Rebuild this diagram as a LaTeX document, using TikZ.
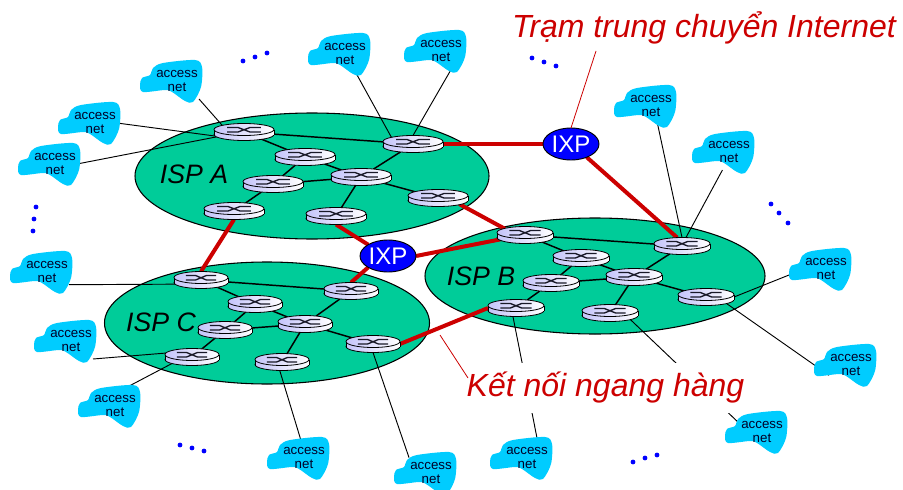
\documentclass[tikz,border=0pt]{standalone}
\usepackage{fontspec}
\setmainfont{Liberation Sans}
\usetikzlibrary{shapes.geometric}
\definecolor{ispgreen}{RGB}{0,204,153}
\definecolor{cloudblue}{RGB}{0,204,255}
\definecolor{peerred}{RGB}{204,0,0}
\definecolor{routerlav}{RGB}{196,196,250}
\definecolor{nettext}{RGB}{0,0,40}
\definecolor{crossdark}{RGB}{25,25,40}
\pgfdeclarelayer{isp}
\pgfdeclarelayer{lines}
\pgfsetlayers{isp,lines,main}
\def\px{0.75pt}
\tikzset{
  ispshape/.style={ellipse,draw=black,line width=0.8pt,fill=ispgreen,inner sep=0pt,outer sep=0pt},
  isplabel/.style={font=\fontsize{20}{24}\selectfont\itshape,text=black,inner sep=0pt},
  redlabel/.style={font=\fontsize{24}{26}\selectfont\itshape,text=peerred,inner sep=0pt},
  corelink/.style={black,line width=1.1pt},
  accesslink/.style={black,line width=0.7pt},
  peerlink/.style={peerred,line width=3pt},
  leader/.style={peerred,line width=0.6pt},
  ixpnode/.style={ellipse,draw=black,line width=0.7pt,fill=blue,text=white,font=\fontsize{18}{20}\selectfont,minimum width=56*\px,minimum height=32*\px,inner sep=0pt,outer sep=0pt},
  netnode/.style={rectangle,minimum width=44*\px,minimum height=36*\px,inner sep=0pt,outer sep=0pt,align=center,text=nettext,font=\fontsize{10}{10.2}\selectfont},
  routernode/.style={ellipse,inner sep=0pt,outer sep=0pt,minimum height=17*\px},
  dot/.style={fill=blue,draw=none},
}
\newcommand{\routerat}[4]{%
  \begin{scope}[shift={(#2,#3)}]
    \path[draw=black,line width=0.6pt,left color=routerlav,right color=white] (0,2.5) ellipse [x radius=#4,y radius=6];
    \path[left color=routerlav,right color=white] (-#4,-2.5) rectangle (#4,2.5);
    \draw[black,line width=0.6pt] (-#4,-2.5) -- (-#4,2.5) (#4,-2.5) -- (#4,2.5);
    \path[draw=black,line width=0.6pt,left color=routerlav,right color=white] (0,-2.5) ellipse [x radius=#4,y radius=6];
    \draw[crossdark,line width=1pt] (-0.56*#4,-4.5) -- (-0.2*#4,-4.5) -- (0.2*#4,0) -- (0.56*#4,0)
      (-0.56*#4,0) -- (-0.2*#4,0) -- (0.2*#4,-4.5) -- (0.56*#4,-4.5);
    \node[routernode,minimum width=2*#4*\px] (#1) at (0,0) {};
  \end{scope}}
\newcommand{\netat}[3]{%
  \begin{scope}[shift={(#2,#3)}]
    \fill[cloudblue] plot[smooth cycle,tension=0.5] coordinates {(-37,5) (-35,-2) (-27,-5) (-24,-12) (-14,-17) (18,-20) (25,-13) (24,7) (16,22) (8,21) (-5,12) (-12,10) (-34,12)};
    \node[netnode] (#1) at (0,1) {access\\net};
  \end{scope}}
\begin{document}
\begin{tikzpicture}[x=0.75pt,y=-0.75pt]
\useasboundingbox (0,0) rectangle (903,489);
\begin{pgfonlayer}{isp}
  \node[ispshape,minimum width=354*\px,minimum height=126*\px] (ispA) at (312,176) {};
  \node[ispshape,minimum width=340*\px,minimum height=116*\px] (ispB) at (595,276) {};
  \node[ispshape,minimum width=325*\px,minimum height=122*\px] (ispC) at (267,323) {};
\end{pgfonlayer}
\node[isplabel] (labA) at (194,174) {ISP A};
\node[isplabel] (labB) at (481,276) {ISP B};
\node[isplabel] (labC) at (161,322) {ISP C};

\routerat{A1}{244}{132}{30}
\routerat{A2}{413}{144}{30}
\routerat{A3}{305}{157}{30}
\routerat{A4}{361}{177}{30}
\routerat{A5}{273}{184}{30}
\routerat{A6}{234}{211}{30}
\routerat{A7}{336}{216}{30}
\routerat{A8}{438}{198}{30}
\routerat{B1}{525}{235}{28}
\routerat{B2}{682}{246}{28}
\routerat{B3}{581}{258}{28}
\routerat{B4}{634}{277}{28}
\routerat{B5}{551}{283}{28}
\routerat{B6}{516}{308}{28}
\routerat{B7}{610}{313}{28}
\routerat{B8}{706}{297}{28}
\routerat{C1}{201}{280}{27}
\routerat{C2}{351}{291}{27}
\routerat{C3}{255}{304}{27}
\routerat{C4}{305}{324}{27}
\routerat{C5}{225}{330}{27}
\routerat{C6}{192}{357}{27}
\routerat{C7}{282}{362}{27}
\routerat{C8}{373}{344}{27}

\node[ixpnode] (ixpT) at (571,144) {IXP};
\node[ixpnode] (ixpM) at (388,256) {IXP};

\netat{n1}{177}{80}
\netat{n2}{345}{53}
\netat{n3}{441}{50}
\netat{n4}{95}{122}
\netat{n5}{55}{163}
\netat{n6}{47}{271}
\netat{n7}{71}{340}
\netat{n8}{115}{405}
\netat{n9}{304}{457}
\netat{n10}{431}{472}
\netat{n11}{527}{457}
\netat{n12}{762}{431}
\netat{n13}{851}{364}
\netat{n14}{826}{268}
\netat{n15}{729}{151}
\netat{n16}{651}{105}

\begin{pgfonlayer}{lines}
  % ISP A
  \draw[corelink] (A1)--(A2) (A1)--(A3) (A3)--(A4) (A3)--(A5) (A4)--(A5) (A4)--(A2) (A5)--(A6) (A4)--(A7) (A4)--(A8);
  % ISP B
  \draw[corelink] (B1)--(B2) (B1)--(B3) (B3)--(B4) (B3)--(B5) (B4)--(B5) (B4)--(B2) (B5)--(B6) (B4)--(B7) (B4)--(B8);
  % ISP C
  \draw[corelink] (C1)--(C2) (C1)--(C3) (C3)--(C4) (C3)--(C5) (C4)--(C5) (C4)--(C2) (C5)--(C6) (C4)--(C7) (C4)--(C8);
  % access links
  \draw[accesslink] (n1.south east)--(A1.north west);
  \draw[accesslink] (n2.-60)--(A2.north west);
  \draw[accesslink] (n3.-60)--(A2.north);
  \draw[accesslink] (n4.east)--(A1.190);
  \draw[accesslink] (n5.east)--(A1.190);
  \draw[accesslink] (n6.-30)--(C1.190);
  \draw[accesslink] (n7.south east)--(C6.170);
  \draw[accesslink] (n8.60)--(C6.south west);
  \draw[accesslink] (n9.100)--(C7.-105);
  \draw[accesslink] (n10.145)--(C8.south);
  \draw[accesslink] (n11.60)--(B6.-110);
  \draw[accesslink] (n12.160)--(B7.south east);
  \draw[accesslink] (n13.205)--(B8.south east);
  \draw[accesslink] (n14.180)--(B8.east);
  \draw[accesslink] (n15.-110)--(B2.65);
  \draw[accesslink] (n16.-70)--(B2.north);
  % peering links
  \draw[peerlink] (A2.east)--(ixpT.west);
  \draw[peerlink] (ixpT.-40)--(B2.120);
  \draw[peerlink] (A8.south east)--(B1.north west);
  \draw[peerlink] (A7.south)--(ixpM.north west);
  \draw[peerlink] (ixpM.east)--(B1.190);
  \draw[peerlink] (ixpM.south west)--(C2.north);
  \draw[peerlink] (C8.east)--(B6.west);
  \draw[peerlink] (A6.south)--(C1.north);
\end{pgfonlayer}

% labels
\node[redlabel] (labT) at (704,28) {Trạm trung chuyển Internet};
\node[redlabel,fill=white,minimum height=50*\px,inner xsep=0pt] (labP) at (605.5,388) {Kết nối ngang hàng};
\coordinate (leadT) at (596,51);
\coordinate (leadP) at (440,335);
\coordinate (leadPb) at (468,378);
\draw[leader] (leadT)--(ixpT.north);
\draw[leader] (leadP)--(leadPb);

% dots
\foreach \x/\y in {243/61,255/57,267/53, 532/58,544/62,556/66, 36/207,34/219,33/231, 771/204,779/213,788/223, 633/462,645/458,657/455, 180/445,192/448,204/451}
  \fill[dot] (\x,\y) circle [radius=2.4];
\end{tikzpicture}
\end{document}
